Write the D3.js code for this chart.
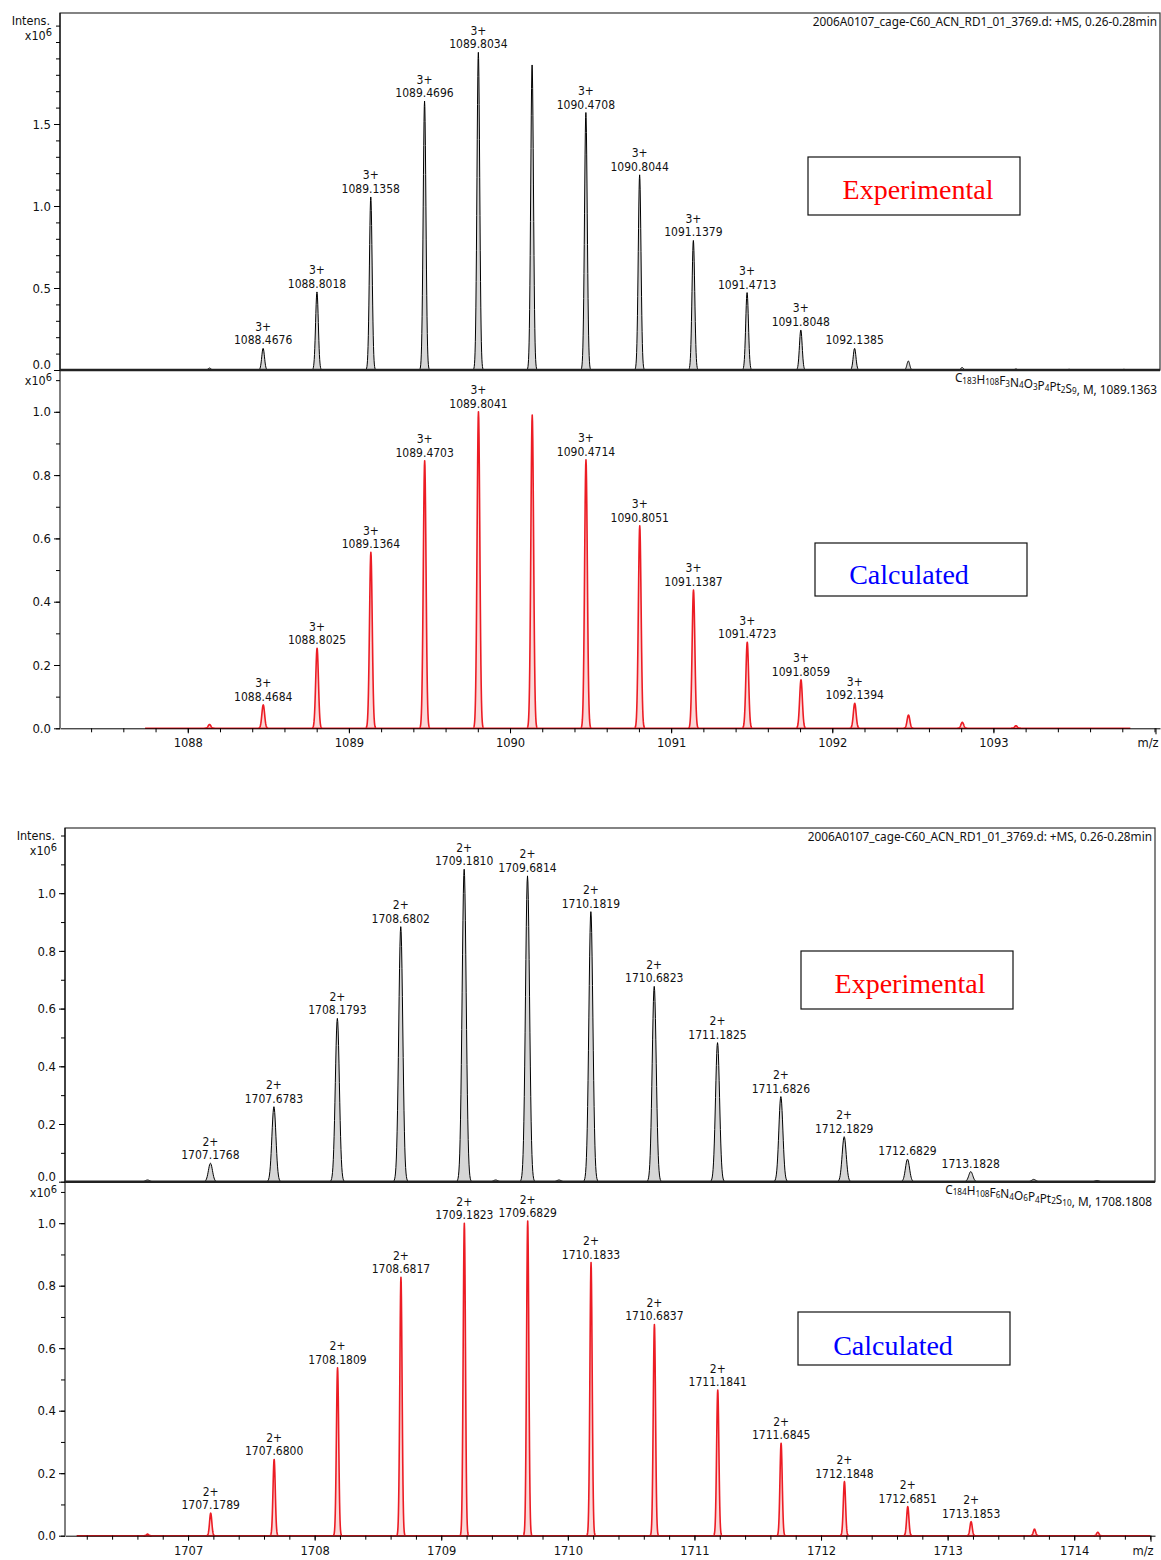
<!DOCTYPE html>
<html>
<head>
<meta charset="utf-8">
<script src="https://cdn.jsdelivr.net/npm/d3@7"></script>
<style>
  body { margin: 0; background: #fff; }
  svg text { font-family: 'DejaVu Sans Condensed', 'Noto Sans', sans-serif; fill: #111; }
  .hdr { font-family: 'Noto Sans', sans-serif; font-size: 11.8px; }
  .tag { font-family: 'Liberation Serif', 'Times New Roman', serif; font-size: 28px; }
</style>
</head>
<body>
<svg id="chart" width="1161" height="1560"></svg>
<script>
// ---------- data: upper figure (3+ ion) ----------
const topExpMz = [1088.135, 1088.4676, 1088.8018, 1089.1358, 1089.4696, 1089.8034, 1090.137, 1090.4708,
  1090.8044, 1091.1379, 1091.4713, 1091.8048, 1092.1385, 1092.472, 1092.806, 1093.14, 1093.47, 1093.81]
const topExpInt = [0.012, 0.132, 0.476, 1.055, 1.64, 1.937, 1.86, 1.57,
  1.19, 0.79, 0.472, 0.244, 0.132, 0.055, 0.015, 0.006, 0.004, 0.004]
const topExpCharge = [null, "3+", "3+", "3+", "3+", "3+", null, "3+", "3+", "3+", "3+", "3+", "", null, null, null, null, null]

const topCalcMz = [1088.135, 1088.4684, 1088.8025, 1089.1364, 1089.4703, 1089.8041, 1090.1378, 1090.4714,
  1090.8051, 1091.1387, 1091.4723, 1091.8059, 1092.1394, 1092.473, 1092.807, 1093.14]
const topCalcInt = [0.012, 0.074, 0.253, 0.556, 0.845, 1.0, 0.99, 0.848,
  0.64, 0.437, 0.272, 0.153, 0.079, 0.042, 0.019, 0.008]
const topCalcCharge = [null, "3+", "3+", "3+", "3+", "3+", null, "3+", "3+", "3+", "3+", "3+", "3+", null, null, null]

const topXTicks = [1088, 1089, 1090, 1091, 1092, 1093]
const topExpYTicks = [0, 0.5, 1.0, 1.5]
const topCalcYTicks = [0, 0.2, 0.4, 0.6, 0.8, 1.0]
const topFormula = [["C", "183"], ["H", "108"], ["F", "3"], ["N", "4"], ["O", "3"], ["P", "4"], ["Pt", "2"], ["S", "9"]]
const topFormulaTail = ", M, 1089.1363"

// ---------- data: lower figure (2+ ion) ----------
const botExpMz = [1706.68, 1707.1768, 1707.6783, 1708.1793, 1708.6802, 1709.1810, 1709.43, 1709.6814, 1709.93,
  1710.1819, 1710.6823, 1711.1825, 1711.6826, 1712.1829, 1712.6829, 1713.1828, 1713.68, 1714.18]
const botExpInt = [0.006, 0.064, 0.26, 0.566, 0.884, 1.083, 0.006, 1.06, 0.006,
  0.936, 0.677, 0.482, 0.295, 0.156, 0.078, 0.035, 0.008, 0.004]
const botExpCharge = [null, "2+", "2+", "2+", "2+", "2+", null, "2+", null, "2+", "2+", "2+", "2+", "2+", "", "", null, null]

const botCalcMz = [1706.68, 1707.1789, 1707.6800, 1708.1809, 1708.6817, 1709.1823, 1709.6829, 1710.1833,
  1710.6837, 1711.1841, 1711.6845, 1712.1848, 1712.6851, 1713.1853, 1713.686, 1714.186]
const botCalcInt = [0.005, 0.072, 0.244, 0.537, 0.827, 1.0, 1.007, 0.874,
  0.676, 0.466, 0.296, 0.173, 0.093, 0.045, 0.021, 0.011]
const botCalcCharge = [null, "2+", "2+", "2+", "2+", "2+", "2+", "2+", "2+", "2+", "2+", "2+", "2+", "2+", null, null]

const botXTicks = [1707, 1708, 1709, 1710, 1711, 1712, 1713, 1714]
const botExpYTicks = [0, 0.2, 0.4, 0.6, 0.8, 1.0]
const botCalcYTicks = [0, 0.2, 0.4, 0.6, 0.8, 1.0]
const botFormula = [["C", "184"], ["H", "108"], ["F", "6"], ["N", "4"], ["O", "6"], ["P", "4"], ["Pt", "2"], ["S", "10"]]
const botFormulaTail = ", M, 1708.1808"

const headerText = "2006A0107_cage-C60_ACN_RD1_01_3769.d: +MS, 0.26-0.28min"

const RED = "#ec1c24"
const svg = d3.select("#chart")

/*
 Axes helpers
*/
function yAxis(g, x0, y, maxTick, labelTicks, liftZero) {
  let minor = d3.range(0, Math.round(maxTick * 10) + 1).map(k => k / 10)
  g.append("g").attr("transform", `translate(${x0},0)`)
    .call(d3.axisLeft(y).tickValues(minor).tickSize(4).tickFormat(""))
    .call(a => a.select(".domain").remove())
  let major = g.append("g").attr("transform", `translate(${x0},0)`)
    .call(d3.axisLeft(y).tickValues(labelTicks).tickSize(6).tickPadding(3).tickFormat(d3.format(".1f")))
    .call(a => a.select(".domain").remove())
  major.selectAll("text").attr("font-size", 13).attr("fill", "#111")
    .style("font-family", "'DejaVu Sans Condensed','Noto Sans',sans-serif")
  // zero label sits on the baseline, just above the next panel's unit label
  if (liftZero) major.selectAll("text").filter(d => d === 0).attr("dy", "-0.08em")
}

function xAxis(g, x, y0, ticks, mzLabelX) {
  let [d0, d1] = x.domain()
  let minor = d3.range(Math.ceil(d0 * 5), Math.floor(d1 * 5) + 1).map(k => k / 5)
  g.append("g").attr("transform", `translate(0,${y0})`)
    .call(d3.axisBottom(x).tickValues(minor).tickSize(4).tickSizeOuter(0).tickFormat(""))
  let major = g.append("g").attr("transform", `translate(0,${y0})`)
    .call(d3.axisBottom(x).tickValues(ticks).tickSize(5).tickPadding(5).tickFormat(d3.format("d")))
    .call(a => a.select(".domain").remove())
  major.selectAll("text").attr("font-size", 12.8).attr("fill", "#111")
    .style("font-family", "'DejaVu Sans Condensed','Noto Sans',sans-serif")
  g.append("line").attr("x1", x.range()[1] - 4).attr("x2", x.range()[1] - 4)
    .attr("y1", y0).attr("y2", y0 + 6).attr("stroke", "#000")
  g.append("text").attr("x", mzLabelX).attr("y", y0 + 19).attr("text-anchor", "middle")
    .attr("font-size", 12.8).text("m/z")
}

function unitLabels(g, x0, yTop, withIntens) {
  if (withIntens) {
    g.append("text").attr("x", x0 - 10).attr("y", yTop + 12).attr("text-anchor", "end")
      .attr("font-size", 12.5).text("Intens.")
  }
  let t = g.append("text").attr("x", x0 - 8).attr("y", yTop + (withIntens ? 27 : 15))
    .attr("text-anchor", "end").attr("font-size", 12.5)
  t.append("tspan").text("x10")
  t.append("tspan").attr("dy", -4).attr("font-size", 11).text("6")
}

/*
 Peaks
*/
const kernel = d3.range(-3.6, 3.601, 0.2)

function drawPeaks(g, x, y, mz, inten, sigma, stroke, fill, width) {
  let area = d3.area().x(d => x(d[0])).y0(y(0)).y1(d => y(d[1]))
  let line = d3.line().x(d => x(d[0])).y(d => y(d[1]))
  mz.forEach((m, i) => {
    let pts = kernel.map(t => [m + t * sigma, inten[i] * Math.exp(-t * t / 2)])
    g.append("path").attr("d", area(pts)).attr("fill", fill)
    g.append("path").attr("d", line(pts)).attr("fill", "none")
      .attr("stroke", stroke).attr("stroke-width", width).attr("stroke-linejoin", "round")
  })
}

function drawPeakLabels(g, x, y, mz, inten, charge) {
  mz.forEach((m, i) => {
    if (charge[i] === null) return
    let top = y(inten[i])
    g.append("text").attr("x", x(m)).attr("y", top - 4).attr("text-anchor", "middle")
      .attr("font-size", 12).text(m.toFixed(4))
    if (charge[i] !== "") {
      g.append("text").attr("x", x(m)).attr("y", top - 17.5).attr("text-anchor", "middle")
        .attr("font-size", 12).text(charge[i])
    }
  })
}

function formulaText(g, xRight, yBase, parts, tail) {
  let t = g.append("text").attr("x", xRight).attr("y", yBase).attr("text-anchor", "end")
    .attr("class", "hdr")
  parts.forEach(p => {
    t.append("tspan").text(p[0])
    t.append("tspan").attr("font-size", 8.2).attr("dy", 1.5).text(p[1])
    t.append("tspan").attr("dy", -1.5).text("")
  })
  t.append("tspan").text(tail)
}

function tagBox(g, bx, by, bw, bh, tx, ty, label, color) {
  g.append("rect").attr("x", bx).attr("y", by).attr("width", bw).attr("height", bh)
    .attr("fill", "#fff").attr("stroke", "#111").attr("stroke-width", 1.2)
  g.append("text").attr("class", "tag").attr("x", tx).attr("y", ty).attr("text-anchor", "middle")
    .style("fill", color).text(label)
}

/*
 One figure = experimental panel on top of calculated panel
*/
function drawFigure(cfg) {
  let g = svg.append("g")
  let x = d3.scaleLinear().domain(cfg.xDomain).range([cfg.left, cfg.right])
  let yExp = d3.scaleLinear().domain([0, 1]).range([cfg.expBase, cfg.expOne])
  let yCalc = d3.scaleLinear().domain([0, 1]).range([cfg.calcBase, cfg.calcOne])

  // experimental frame
  g.append("rect").attr("x", cfg.left).attr("y", cfg.top).attr("width", cfg.right - cfg.left)
    .attr("height", cfg.expBase - cfg.top).attr("fill", "none").attr("stroke", "#333").attr("stroke-width", 1.2)
  g.append("line").attr("x1", cfg.left).attr("x2", cfg.left).attr("y1", cfg.top).attr("y2", cfg.calcBase)
    .attr("stroke", "#000")

  g.append("text").attr("class", "hdr").attr("x", cfg.right - 3).attr("y", cfg.top + 13)
    .attr("text-anchor", "end").text(headerText)
  formulaText(g, cfg.right - 3, cfg.expBase + 12, cfg.formula, cfg.formulaTail)

  // experimental trace
  drawPeaks(g, x, yExp, cfg.expMz, cfg.expInt, cfg.expSigma, "#000", "#d6d6d6", 1)
  g.append("line").attr("x1", cfg.left).attr("x2", cfg.right).attr("y1", cfg.expBase).attr("y2", cfg.expBase)
    .attr("stroke", "#222").attr("stroke-width", 2.4)
  drawPeakLabels(g, x, yExp, cfg.expMz, cfg.expInt, cfg.expCharge)

  // calculated trace
  drawPeaks(g, x, yCalc, cfg.calcMz, cfg.calcInt, cfg.calcSigma, RED, "#fbd9d9", 1.6)
  g.append("line").attr("x1", x(cfg.calcFrom)).attr("x2", x(cfg.calcTo))
    .attr("y1", cfg.calcBase).attr("y2", cfg.calcBase).attr("stroke", RED).attr("stroke-width", 1.6)
  drawPeakLabels(g, x, yCalc, cfg.calcMz, cfg.calcInt, cfg.calcCharge)

  // axes
  yAxis(g, cfg.left, yExp, cfg.expMaxTick, cfg.expYTicks, true)
  yAxis(g, cfg.left, yCalc, cfg.calcMaxTick, cfg.calcYTicks, false)
  xAxis(g, x, cfg.calcBase, cfg.xTicks, cfg.mzLabelX)
  unitLabels(g, cfg.left, cfg.top, true)
  unitLabels(g, cfg.left, cfg.expBase, false)

  tagBox(g, ...cfg.expBox, "Experimental", "#ff0000")
  tagBox(g, ...cfg.calcBox, "Calculated", "#0000ff")
}

drawFigure({
  xDomain: [1087.207, 1094.034], left: 60, right: 1160, top: 13,
  expBase: 370, expOne: 206, calcBase: 728.3, calcOne: 411.8,
  expMaxTick: 2.1, calcMaxTick: 1.1,
  expMz: topExpMz, expInt: topExpInt, expCharge: topExpCharge, expSigma: 0.0085,
  calcMz: topCalcMz, calcInt: topCalcInt, calcCharge: topCalcCharge, calcSigma: 0.0085,
  calcFrom: 1087.735, calcTo: 1093.85,
  expYTicks: topExpYTicks, calcYTicks: topCalcYTicks, xTicks: topXTicks, mzLabelX: 1148,
  formula: topFormula, formulaTail: topFormulaTail,
  expBox: [808, 157, 212, 58, 918, 199], calcBox: [815, 543, 212, 53, 909, 584]
})

drawFigure({
  xDomain: [1706.028, 1714.638], left: 65, right: 1155, top: 828,
  expBase: 1181.7, expOne: 893.2, calcBase: 1535.7, calcOne: 1223.2,
  expMaxTick: 1.2, calcMaxTick: 1.1,
  expMz: botExpMz, expInt: botExpInt, expCharge: botExpCharge, expSigma: 0.016,
  calcMz: botCalcMz, calcInt: botCalcInt, calcCharge: botCalcCharge, calcSigma: 0.009,
  calcFrom: 1706.12, calcTo: 1714.6,
  expYTicks: botExpYTicks, calcYTicks: botCalcYTicks, xTicks: botXTicks, mzLabelX: 1143,
  formula: botFormula, formulaTail: botFormulaTail,
  expBox: [801, 951, 212, 58, 910, 993], calcBox: [798, 1312, 212, 53, 893, 1355]
})
</script>
</body>
</html>
